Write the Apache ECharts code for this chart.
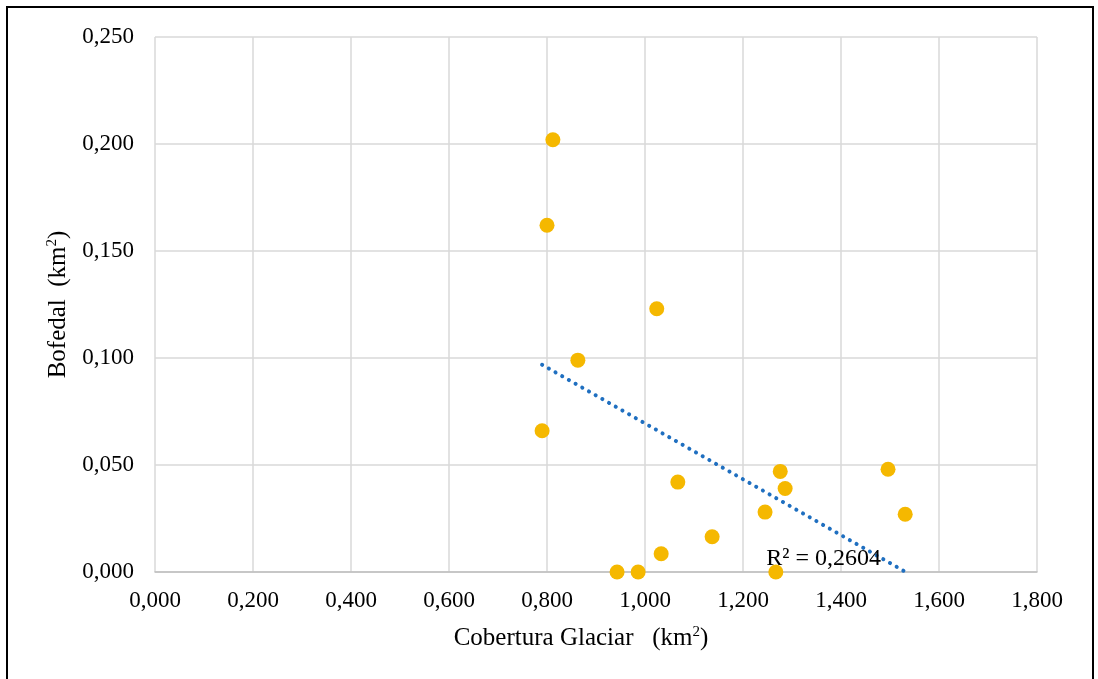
<!DOCTYPE html>
<html>
<head>
<meta charset="utf-8">
<script src="https://cdn.jsdelivr.net/npm/echarts@6/dist/echarts.min.js"></script>
<style>
html,body{margin:0;padding:0;background:#fff;}
#frame{position:absolute;left:6px;top:6px;width:1084px;height:690px;border:2px solid #000;box-sizing:content-box;}
#chart{position:absolute;left:0;top:0;width:1098px;height:679px;}
</style>
</head>
<body>
<div id="frame"></div>
<div id="chart"></div>
<script>
// Data
const coberturaGlaciar = [0.812, 0.800, 1.024, 0.863, 0.790, 1.067, 1.276, 1.286, 1.245, 1.137, 1.033, 0.943, 0.986, 1.267, 1.496, 1.531];
const bofedal =          [0.202, 0.162, 0.123, 0.099, 0.066, 0.042, 0.047, 0.039, 0.028, 0.0165, 0.0085, 0.000, 0.000, 0.000, 0.048, 0.027];
const r2Label = 'R² = 0,2604';
const xTickInterval = 0.2;
const yTickInterval = 0.05;

const points = coberturaGlaciar.map((x, i) => [x, bofedal[i]]);

// Linear trendline (least squares) over the data's x range
const n = points.length;
const mx = coberturaGlaciar.reduce((a, b) => a + b, 0) / n;
const my = bofedal.reduce((a, b) => a + b, 0) / n;
let sxy = 0, sxx = 0;
for (let i = 0; i < n; i++) { sxy += (coberturaGlaciar[i] - mx) * (bofedal[i] - my); sxx += (coberturaGlaciar[i] - mx) ** 2; }
const slope = sxy / sxx, intercept = my - slope * mx;
const xMin = Math.min(...coberturaGlaciar), xMax = Math.max(...coberturaGlaciar);
const trend = [[xMin, intercept + slope * xMin], [xMax, Math.max(0, intercept + slope * xMax)]];

const fmt = v => v.toFixed(3).replace('.', ',');
const serif = '"Liberation Serif", "DejaVu Serif", serif';
const titleRich = {
  a: {fontFamily: serif, fontSize: 25, color: '#000'},
  s: {fontFamily: serif, fontSize: 15, color: '#000', verticalAlign: 'top', padding: [0, 0, 12, 0]}
};

const chart = echarts.init(document.getElementById('chart'), null, {renderer: 'canvas'});
chart.setOption({
  animation: false,
  backgroundColor: 'transparent',
  grid: {left: 155, top: 37, right: 61, bottom: 107, containLabel: false},
  xAxis: {
    type: 'value', min: 0, max: 1.8, interval: xTickInterval,
    name: '{a|Cobertura Glaciar   (km}{s|2}{a|)}',
    nameLocation: 'middle', nameGap: 53,
    nameTextStyle: {rich: titleRich, padding: [0, 30, 0, 0]},
    axisLine: {show: true, lineStyle: {color: '#bfbfbf', width: 1.5}},
    axisTick: {show: false},
    splitLine: {show: true, lineStyle: {color: '#d9d9d9', width: 1.5}},
    axisLabel: {formatter: fmt, fontFamily: serif, fontSize: 23, color: '#000', margin: 17}
  },
  yAxis: {
    type: 'value', min: 0, max: 0.25, interval: yTickInterval,
    name: '{a|Bofedal  (km}{s|2}{a|)}',
    nameLocation: 'middle', nameGap: 83,
    nameTextStyle: {rich: titleRich},
    axisLine: {show: false},
    axisTick: {show: false},
    splitLine: {show: true, lineStyle: {color: '#d9d9d9', width: 1.5}},
    axisLabel: {formatter: fmt, fontFamily: serif, fontSize: 23, color: '#000', margin: 21}
  },
  series: [
    {
      type: 'line', data: trend, showSymbol: false, symbol: 'none', z: 1,
      lineStyle: {color: '#1f6fc0', width: 4, type: [0.1, 7.6], cap: 'round'},
      endLabel: {show: true, formatter: r2Label, fontFamily: serif, fontSize: 24, color: '#000', offset: [-147, -13]}
    },
    {
      type: 'scatter', data: points, symbolSize: 15, z: 2,
      itemStyle: {color: '#f5b800', opacity: 1}
    }
  ]
});
</script>
</body>
</html>
